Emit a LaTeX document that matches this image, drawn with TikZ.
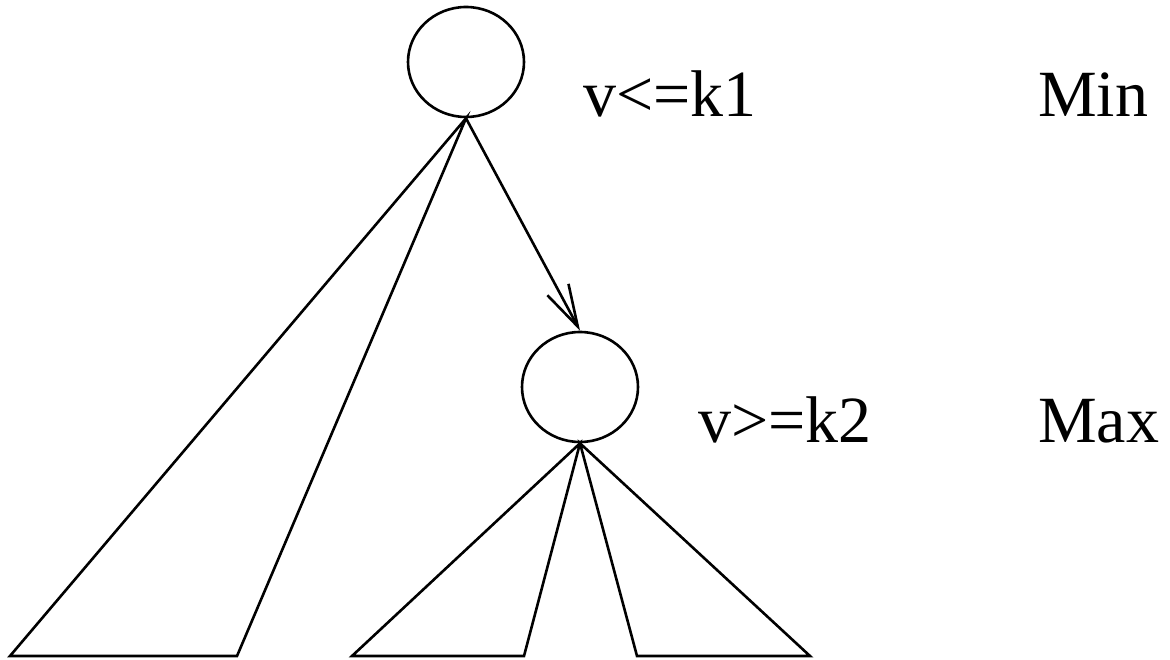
\documentclass[tikz,border=0pt]{standalone}
\usepackage{fontspec}
\setmainfont{Liberation Serif}
\usetikzlibrary{shapes.geometric,arrows.meta}
\begin{document}
\begin{tikzpicture}[x=1pt,y=-1pt,line width=2.6pt,line join=miter,
  treenode/.style={draw,ellipse,minimum width=116pt,minimum height=110pt,inner sep=0pt},
  lbl/.style={anchor=base west,inner sep=0pt,font=\fontsize{66}{79}\selectfont},
  edge/.style={-{Straight Barb[length=42pt,width=24pt,line width=2.6pt]}}]
\useasboundingbox (0,0) rectangle (1170,660);
\node[treenode] (top) at (466,62) {};
\node[treenode] (bot) at (580,387) {};
\coordinate (a1) at (10,656);
\coordinate (a2) at (237,656);
\coordinate (b1) at (352,656);
\coordinate (b2) at (524,656);
\coordinate (c1) at (637,656);
\coordinate (c2) at (810,656);
\draw (top.south) -- (a1) -- (a2) -- cycle;
\draw (bot.south) -- (b1) -- (b2) -- cycle;
\draw (bot.south) -- (c1) -- (c2) -- cycle;
\draw[edge] (top.south) -- (bot.north);
\node[lbl] (l1) at (582,117) {v<=k1};
\node[lbl] (m1) at (1037,117) {Min};
\node[lbl] (l2) at (697,442) {v>=k2};
\node[lbl] (m2) at (1037,442) {Max};
\end{tikzpicture}
\end{document}
